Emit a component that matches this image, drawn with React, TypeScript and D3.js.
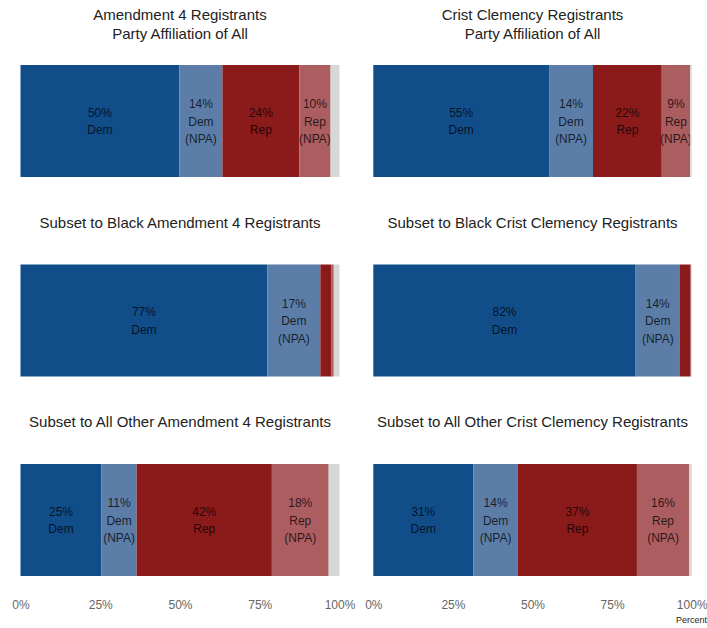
import React, { useEffect, useRef } from 'react';
import * as d3 from 'd3';

// panels: row-major, left column = Amendment 4, right column = Crist Clemency
const panels = ['a4All', 'ccAll', 'a4Black', 'ccBlack', 'a4Other', 'ccOther'];
const titles = [
  ['Amendment 4 Registrants', 'Party Affiliation of All'],
  ['Crist Clemency Registrants', 'Party Affiliation of All'],
  ['Subset to Black Amendment 4 Registrants'],
  ['Subset to Black Crist Clemency Registrants'],
  ['Subset to All Other Amendment 4 Registrants'],
  ['Subset to All Other Crist Clemency Registrants']
];

// percent of registrants per party group
const dem = [49.8, 55.2, 77.4, 82.4, 25.4, 31.4];
const demNpa = [13.5, 13.8, 16.6, 13.9, 11.0, 14.0];
const rep = [24.1, 21.6, 3.5, 3.3, 42.4, 37.4];
const repNpa = [9.8, 8.9, 0.7, 0.2, 17.8, 16.4];
const other = [2.8, 0.5, 1.8, 0.2, 3.4, 0.8];

const seriesKeys = ['dem', 'demNpa', 'rep', 'repNpa', 'other'];
const seriesNames = [['Dem'], ['Dem', '(NPA)'], ['Rep'], ['Rep', '(NPA)'], []];
const colors = ['#114d89', '#5b7da8', '#8b1a1b', '#ab5d60', '#d7d7d7'];

const tickValues = [0, 25, 50, 75, 100];

const App = () => {
  const svgRef = useRef(null);

  useEffect(() => {
    const width = 707;
    const height = 628;
    const svg = d3.select(svgRef.current);
    svg.selectAll('*').remove();
    svg.attr('width', width).attr('height', height);

    const rows = panels.map((p, i) => ({
      panel: p,
      dem: dem[i],
      demNpa: demNpa[i],
      rep: rep[i],
      repNpa: repNpa[i],
      other: other[i]
    }));
    const stacked = d3.stack().keys(seriesKeys)(rows as any);

    const colRanges = [[20.5, 339.5], [373.3, 691.7]];
    const rowY = d3.scaleLinear().domain([0, 2]).range([65, 464]);
    const bh = 112;

    const font = 'Liberation Sans, Arial, sans-serif';

    panels.forEach((p, i) => {
      const col = i % 2;
      const row = Math.floor(i / 2);
      const x = d3.scaleLinear().domain([0, 100]).range(colRanges[col]);
      const y0 = rowY(row);
      const g = svg.append('g');

      // title
      const t = titles[i];
      t.forEach((line, j) => {
        g.append('text')
          .attr('x', (x(0) + x(100)) / 2)
          .attr('y', y0 - (t.length === 2 ? 45 : 37) + j * 19)
          .attr('text-anchor', 'middle')
          .attr('font-family', font)
          .attr('font-size', 15)
          .attr('fill', '#222')
          .text(line);
      });

      stacked.forEach((s, k) => {
        const d = s[i];
        g.append('rect')
          .attr('x', x(d[0]))
          .attr('y', y0)
          .attr('width', x(d[1]) - x(d[0]))
          .attr('height', bh)
          .attr('fill', colors[k]);

        const val = d[1] - d[0];
        if (val >= 5 && seriesNames[k].length) {
          const lines = [`${Math.round(val)}%`, ...seriesNames[k]];
          const cx = (x(d[0]) + x(d[1])) / 2;
          const cy = y0 + bh / 2;
          const lh = 17.5;
          lines.forEach((ln, j) => {
            g.append('text')
              .attr('x', cx)
              .attr('y', cy + (j - (lines.length - 1) / 2) * lh + 4.5)
              .attr('text-anchor', 'middle')
              .attr('font-family', font)
              .attr('font-size', 12)
              .attr('fill', '#000')
              .attr('fill-opacity', 0.75)
              .text(ln);
          });
        }
      });

      // x axis on bottom row
      if (row === 2) {
        const axis = d3.axisBottom(x)
          .tickValues(tickValues)
          .tickSize(0)
          .tickFormat(d => `${d}%`);
        const ag = g.append('g')
          .attr('transform', `translate(0,${y0 + bh + 21})`)
          .call(axis);
        ag.select('.domain').remove();
        ag.selectAll('text')
          .attr('font-family', font)
          .attr('font-size', 12)
          .attr('fill', '#666');
      }
    });

    svg.append('text')
      .attr('x', 707)
      .attr('y', 623)
      .attr('text-anchor', 'end')
      .attr('font-family', font)
      .attr('font-size', 9)
      .attr('fill', '#222')
      .text('Percent');
  }, []);

  return (
    <div style={{ position: 'absolute', left: 0, top: 0 }}>
      <svg ref={svgRef}></svg>
    </div>
  );
};

export default App;
